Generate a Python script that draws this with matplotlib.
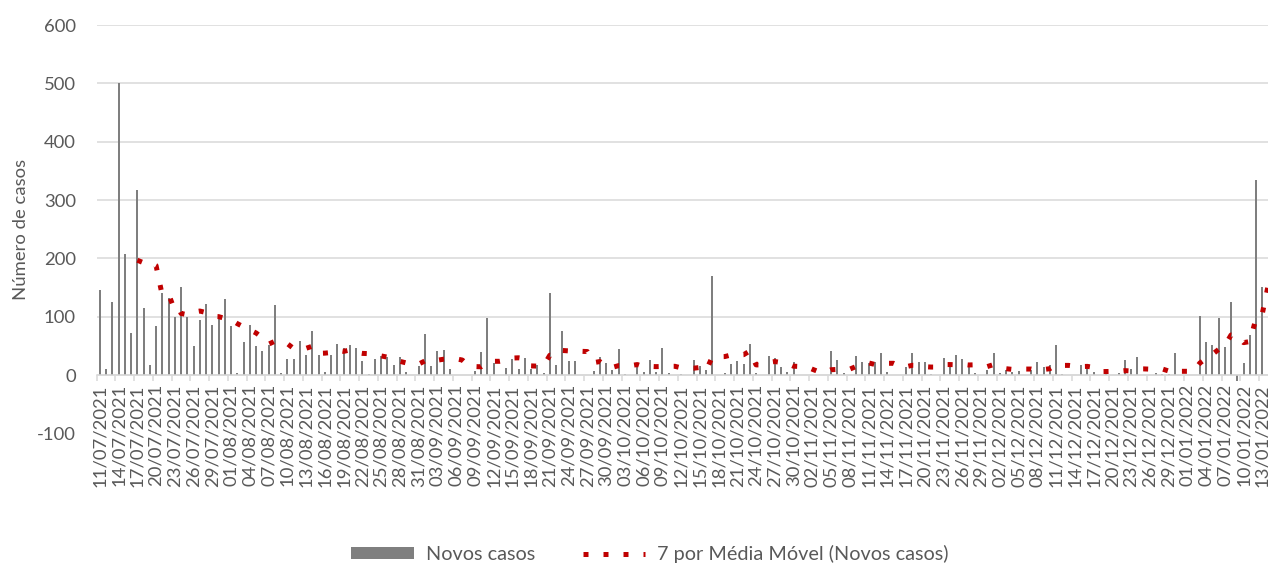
import numpy as np
import pandas as pd
import matplotlib
matplotlib.use("Agg")
import matplotlib.pyplot as plt
from matplotlib.patches import Patch
from matplotlib.lines import Line2D

plt.rcParams['font.family'] = ['Lato', 'DejaVu Sans']
plt.rcParams['axes.unicode_minus'] = False

# Novos casos diarios, 11/07/2021 a 14/01/2022 (por mes)
casos_jul = [146, 10, 125, 500, 208, 72, 317, 115, 17, 84, 140, 132, 100, 151, 100,
             50, 95, 122, 86, 97, 130]
casos_ago = [84, 3, 56, 86, 49, 41, 51, 120, 3, 27, 27, 58, 35, 76, 35, 5, 34, 53, 46,
             52, 46, 24, 2, 28, 32, 31, 17, 31, 5, 0, 15]
casos_set = [70, 15, 42, 43, 10, 0, 0, 0, 7, 39, 98, 21, 0, 12, 27, 10, 29, 11, 18, 3,
             140, 18, 76, 24, 24, 0, 0, 7, 31, 21]
casos_out = [9, 45, 1, 0, 19, 5, 25, 6, 47, 3, 0, 1, 0, 25, 15, 9, 170, 0, 3, 19, 24,
             19, 54, 3, 0, 33, 29, 13, 6, 22, 0]
casos_nov = [0, 0, 0, 0, 42, 26, 3, 0, 32, 23, 20, 23, 38, 5, 0, 0, 14, 37, 22, 22, 1,
             0, 30, 14, 35, 27, 14, 3, 0, 9]
casos_dez = [38, 3, 9, 6, 7, 0, 9, 23, 13, 18, 51, 2, 0, 0, 18, 15, 6, 0, 3, 0, 3, 26,
             11, 31, 0, 0, 3, 2, 2, 38, 0]
casos_jan = [0, 0, 102, 56, 52, 97, 48, 126, -10, 20, 69, 334, 151, 408]

casos = casos_jul + casos_ago + casos_set + casos_out + casos_nov + casos_dez + casos_jan
datas = pd.date_range("2021-07-11", periods=len(casos), freq="D")
rotulos = [d.strftime("%d/%m/%Y") for d in datas]

# media movel de 7 periodos (linha de tendencia do Excel)
media_movel = pd.Series(casos, dtype=float).rolling(7).mean()

cinza_txt = "#595959"
cinza_grade = "#D9D9D9"
fs = 13.3

W, H = 1268, 566
fig = plt.figure(figsize=(W / 100, H / 100), dpi=100)
left, right, top, bottom = 96.7, 96.7 + 6.25 * len(casos), 25, 433.4
ax = fig.add_axes([left / W, 1 - bottom / H, (right - left) / W, (bottom - top) / H])

x = np.arange(len(casos))
ax.bar(x, casos, width=0.32, color="#7F7F7F", zorder=2)
ax.plot(x, media_movel, color="#C00000", lw=3.6, linestyle=(0, (1, 3)), zorder=3)

ax.set_xlim(-0.5, len(casos) - 0.5)
ax.set_ylim(-100, 600)
ax.set_yticks(range(-100, 700, 100))
ax.yaxis.grid(True, color=cinza_grade, lw=1.1, zorder=0)
ax.get_ygridlines()[0].set_visible(False)
ax.set_axisbelow(True)

for s in ["left", "right", "top"]:
    ax.spines[s].set_visible(False)
ax.spines["bottom"].set_position(("data", 0))
ax.spines["bottom"].set_color(cinza_grade)
ax.spines["bottom"].set_linewidth(1.1)

ax.set_xticks(x[::3])
ax.set_xticklabels(rotulos[::3], rotation=90)
ax.set_xticks(np.arange(-0.5, len(casos), 3), minor=True)
ax.tick_params(axis="x", which="major", length=0, pad=6.5, labelsize=fs, labelcolor=cinza_txt)
ax.tick_params(axis="x", which="minor", length=4, width=1.1, color=cinza_grade)
ax.tick_params(axis="y", length=0, pad=14.9, labelsize=fs, labelcolor=cinza_txt)

ax.set_ylabel("Número de casos", fontsize=fs, color=cinza_txt)
ax.yaxis.set_label_coords(-0.058, 0.5)

handles = [Patch(facecolor="#7F7F7F", edgecolor="none"),
           Line2D([], [], color="#C00000", lw=3.6, linestyle=(0, (1, 3)))]
fig.legend(handles, ["Novos casos", "7 por Média Móvel (Novos casos)"],
           loc="center", bbox_to_anchor=(650 / W, 12 / H), ncol=2, frameon=False,
           fontsize=14.3, labelcolor=cinza_txt, handlelength=3.15, handleheight=0.55,
           handletextpad=0.6, columnspacing=2.4, borderpad=0)

fig.savefig("out.png", dpi=100)
